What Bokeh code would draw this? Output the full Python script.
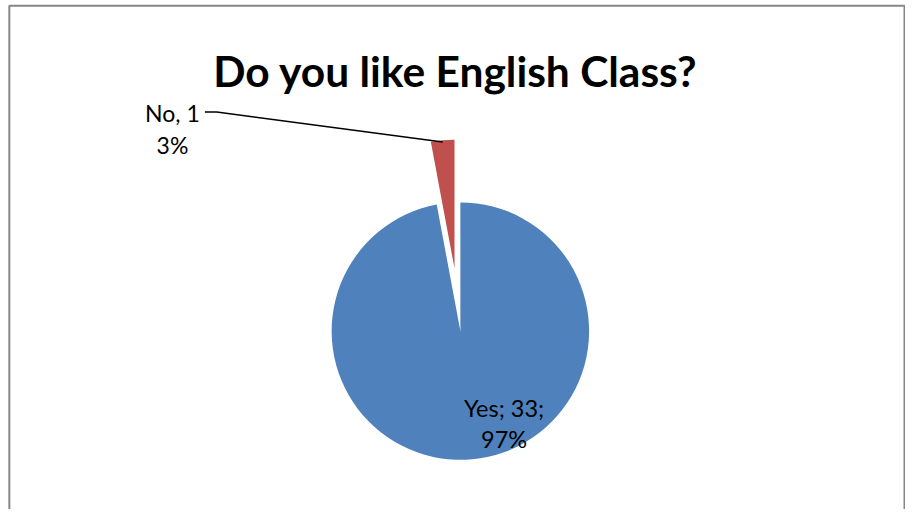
import math
from bokeh.plotting import figure
from bokeh.models import Range1d
from bokeh.core.properties import value
from bokeh.embed import file_html
from bokeh.resources import INLINE

# ---- data ----
categories = ["Yes", "No"]
counts = [33, 1]
colors = ["#4F81BD", "#C0504D"]
title_text = "Do you like English Class?"

W, H = 905, 509
REF_W, REF_H = 921, 525

def py(y):  # reference pixel y -> data y
    return REF_H - y

p = figure(width=W, height=H, output_backend="svg", toolbar_location=None,
           x_range=Range1d(0, REF_W), y_range=Range1d(0, REF_H),
           min_border=0, outline_line_color=None)
p.axis.visible = False
p.grid.visible = False
p.background_fill_color = "white"
p.border_fill_color = "white"

# chart-area border (left, top, right visible)
p.line(x=[9, 9, 920, 920], y=[py(530), py(5.5), py(5.5), py(530)],
       line_color="#868686", line_width=2)

total = sum(counts)
cx, cy = 468, py(341)
R = 131
explode = [0, 65]

# slices clockwise from 12 o'clock
start = 90.0
pct = []
for i, (c, col) in enumerate(zip(counts, colors)):
    sweep = 360.0 * c / total
    a_end = start
    a_start = start - sweep
    mid = math.radians((a_start + a_end) / 2)
    ox = cx + explode[i] * math.cos(mid)
    oy = cy + explode[i] * math.sin(mid)
    p.wedge(x=[ox], y=[oy], radius=R,
            start_angle=[math.radians(a_start)], end_angle=[math.radians(a_end)],
            fill_color=col, line_color=None)
    start = a_start
    pct.append(round(100 * c / total))

font = value("Lato")
# title
p.text(x=[463], y=[py(72)], text=[title_text], text_font=font, text_font_style="bold",
       text_font_size="42.5px", text_align="center", text_baseline="alphabetic",
       text_color="black")

# Yes label
p.text(x=[512.5, 512.5], y=[py(420), py(452.5)],
       text=[f"{categories[0]}; {counts[0]};", f"{pct[0]}%"],
       text_font=font, text_font_size="23.5px", text_align="center",
       text_baseline="alphabetic", text_color="black")

# No label
p.text(x=[175, 175], y=[py(116), py(149.5)],
       text=[f"{categories[1]}, {counts[1]}", f"{pct[1]}%"],
       text_font=font, text_font_size="23px", text_align="center",
       text_baseline="alphabetic", text_color="black")

# leader line
p.line(x=[208, 220, 450], y=[py(115), py(115), py(146)], line_color="black", line_width=1.6)

open("out.html", "w").write(file_html(p, INLINE))
